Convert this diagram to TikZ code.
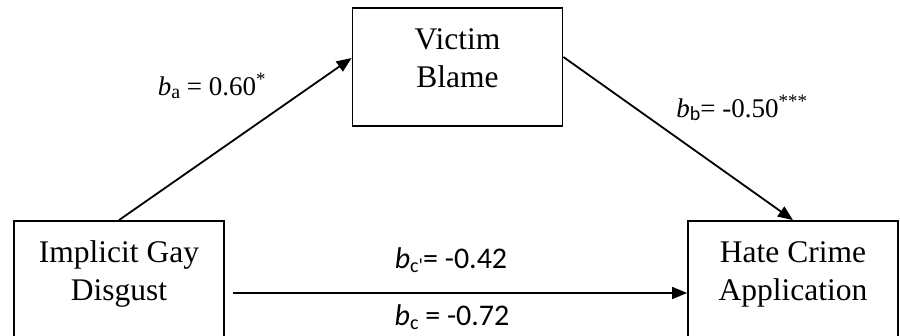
\documentclass[tikz,border=0pt]{standalone}
\usepackage{fontspec}
\setmainfont{Liberation Serif}
\newfontfamily\calibrifont{Carlito}
\usetikzlibrary{arrows.meta}
\tikzstyle{var}=[rectangle, draw, line width=1.8pt, minimum width=210pt, minimum height=118pt, inner sep=0pt, align=center, text depth=18pt, font=\fontsize{31.5}{38}\selectfont]
\tikzstyle{coef}=[inner sep=0pt, anchor=base, font=\fontsize{27}{32}\selectfont]
\tikzstyle{link}=[->, line width=1.8pt]
\newcommand{\coefsub}[1]{\raisebox{-0.3ex}{\fontsize{20}{20}\selectfont #1}}

\begin{document}
\begin{tikzpicture}[x=1pt, y=-1pt, >={Triangle[length=15pt,width=12pt]}]
  \useasboundingbox (0,0) rectangle (900,335);
  \clip (0,0) rectangle (900,335);

  %% Variables
  \draw (119,280) node[var] (IGD) {Implicit Gay\\Disgust};
  \draw (457.5,67) node[var] (VB) {Victim\\Blame};
  \draw (793,280) node[var] (HCA) {Hate Crime\\Application};

  %% Paths
  \draw[link] (IGD.north) -- ([yshift=9pt]VB.west);
  \draw[link] ([yshift=10pt]VB.east) -- (HCA.north);
  \draw[link] ([xshift=8pt,yshift=-13pt]IGD.east) -- ([yshift=-13pt]HCA.west);

  %% Coefficients
  \draw (212,95) node[coef] (ba) {{\itshape b}\coefsub{a} = 0.60\textsuperscript{*}};
  \draw (742,117) node[coef] (bb) {{\itshape b}\coefsub{\calibrifont b}= -0.50\textsuperscript{***}};
  \draw (451,268) node[coef, font=\fontsize{30}{34}\selectfont] (bcp) {\calibrifont{\itshape b}\coefsub{c'}= -0.42};
  \draw (452,325) node[coef, font=\fontsize{30}{34}\selectfont] (bc) {\calibrifont{\itshape b}\coefsub{c} = -0.72};
\end{tikzpicture}
\end{document}
